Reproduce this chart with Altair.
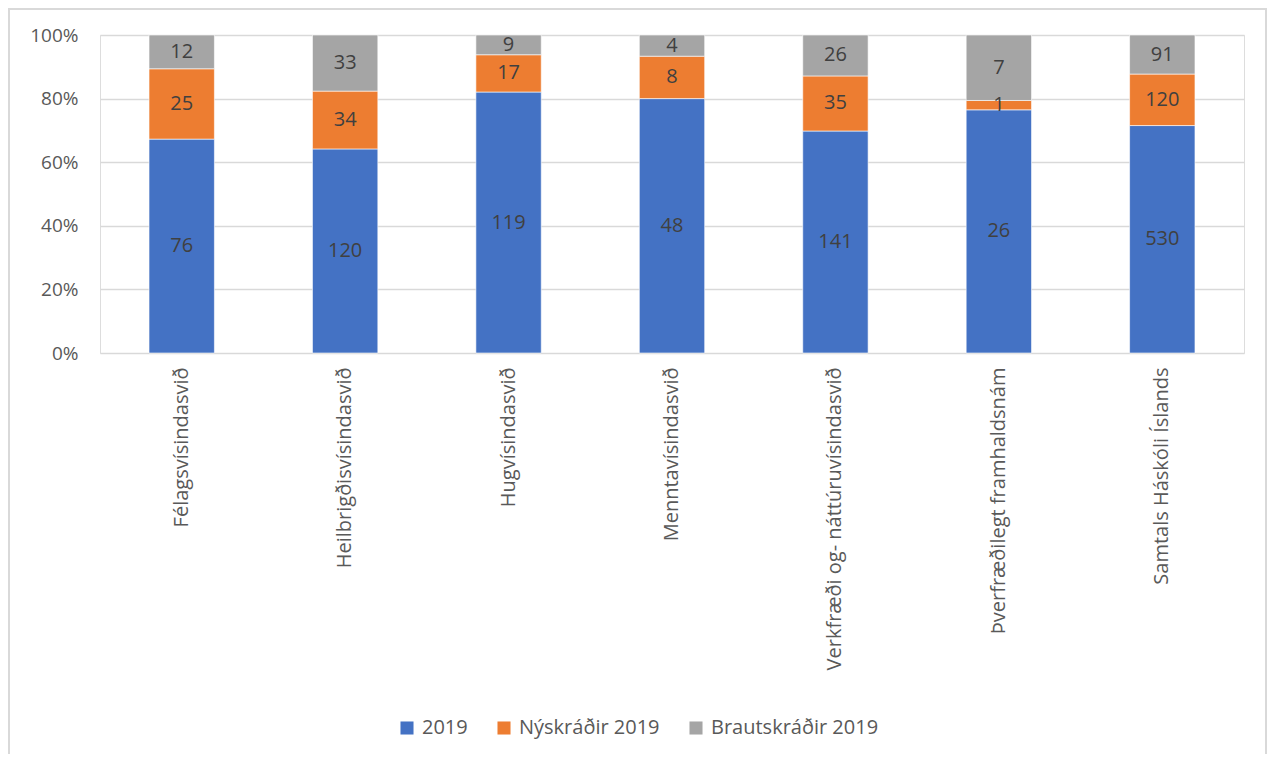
import altair as alt
import pandas as pd

categories = ["Félagsvísindasvið", "Heilbrigðisvísindasvið", "Hugvísindasvið",
              "Menntavísindasvið", "Verkfræði og- náttúruvísindasvið",
              "Þverfræðilegt framhaldsnám", "Samtals Háskóli Íslands"]
series = ["2019", "Nýskráðir 2019", "Brautskráðir 2019"]
v2019 = [76, 120, 119, 48, 141, 26, 530]
vny = [25, 34, 17, 8, 35, 1, 120]
vbr = [12, 33, 9, 4, 26, 7, 91]
colors = ["#4472C4", "#ED7D31", "#A5A5A5"]

rows = []
for i, c in enumerate(categories):
    for j, (s, vals) in enumerate(zip(series, [v2019, vny, vbr])):
        rows.append({"cat": c, "series": s, "ord": j, "value": vals[i]})
df = pd.DataFrame(rows)

FONT = "Open Sans"
W, H = 1144, 318
PL, PT = 92, 27
TOTW, TOTH = 1260, 746

base = alt.Chart(df).transform_window(
    cum="sum(value)", groupby=["cat"], sort=[alt.SortField("ord")]
).transform_joinaggregate(
    total="sum(value)", groupby=["cat"]
).transform_calculate(
    y0="(datum.cum - datum.value) / datum.total",
    y1="datum.cum / datum.total",
    ymid="(datum.cum - datum.value / 2) / datum.total",
)

xenc = alt.X("cat:N", sort=categories, title=None,
             scale=alt.Scale(paddingInner=0.6, paddingOuter=0.3),
             axis=alt.Axis(labelAngle=-90, labelFontSize=20, labelColor="#595959",
                           labelFont=FONT, labelPadding=14, ticks=False, domain=False,
                           grid=False, labelLimit=400))

bars = base.mark_bar(stroke="white", strokeWidth=0.6).encode(
    x=xenc,
    y=alt.Y("y0:Q", scale=alt.Scale(domain=[0, 1], nice=False), title=None,
            axis=alt.Axis(format="%", values=[0, 0.2, 0.4, 0.6, 0.8, 1.0],
                          labelFontSize=19, labelColor="#595959", labelFont=FONT,
                          labelPadding=22, ticks=False, domain=False,
                          gridColor="#d9d9d9", gridWidth=1.5)),
    y2="y1:Q",
    color=alt.Color("series:N", sort=series,
                    scale=alt.Scale(domain=series, range=colors),
                    legend=alt.Legend(title=None, orient="none", direction="horizontal",
                                      legendX=297, legendY=683, symbolType="square",
                                      symbolSize=170, symbolStrokeWidth=0,
                                      labelFontSize=20, labelColor="#595959",
                                      labelFont=FONT, columnPadding=26, labelOffset=5,
                                      labelLimit=400)),
    order=alt.Order("ord:Q"),
)

labels = base.mark_text(fontSize=20, color="#404040", font=FONT).encode(
    x=alt.X("cat:N", sort=categories),
    y=alt.Y("ymid:Q"),
    text=alt.Text("value:Q"),
)

border = alt.Chart(df).mark_rect(fill=None, stroke="#d9d9d9", strokeWidth=2, clip=False).encode(
    x=alt.value(-PL + 1), x2=alt.value(TOTW - PL - 2),
    y=alt.value(-PT + 1), y2=alt.value(TOTH + 40),
)

chart = alt.layer(bars, labels, border).properties(
    width=W, height=H,
    autosize=alt.AutoSizeParams(type="none"),
    padding={"left": PL, "top": PT, "right": TOTW - PL - W, "bottom": TOTH - PT - H},
).configure_view(stroke=None).configure(font=FONT)

chart.save("out.html", embed_options={"renderer": "svg", "actions": False})
